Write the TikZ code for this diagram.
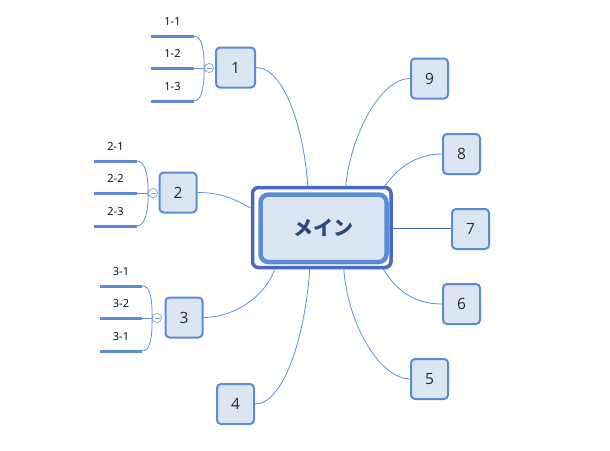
\documentclass[tikz,border=0pt]{standalone}
\usepackage{fontspec}
\setmainfont{Open Sans}
\newfontfamily\jp{Noto Sans CJK JP}
\definecolor{boxfill}{HTML}{DCE6F2}
\definecolor{boxline}{HTML}{5A8CD6}
\definecolor{outerline}{HTML}{4A68BE}
\definecolor{connc}{HTML}{5E90DA}
\definecolor{conndark}{HTML}{3C6CC4}
\definecolor{numtext}{HTML}{2A2A2A}
\definecolor{maintext}{HTML}{2F4B7E}
\definecolor{knobc}{HTML}{7FA3D8}
\pgfdeclarelayer{bg}
\pgfdeclarelayer{edges}
\pgfsetlayers{bg,edges,main}
\tikzset{
 numbox/.style={draw=boxline, fill=boxfill, line width=2pt, rounded corners=4pt, minimum width=37pt, minimum height=40pt, inner sep=0pt, font=\fontsize{15.5}{18}\selectfont, text=numtext},
 mainbox/.style={draw=boxline, fill=boxfill, line width=4.5pt, rounded corners=8pt, minimum width=126pt, minimum height=67.5pt, inner sep=0pt, font=\jp\bfseries\fontsize{20}{24}\selectfont, text=maintext},
 outerbox/.style={draw=outerline, line width=3.5pt, rounded corners=6pt, minimum width=138.5pt, minimum height=80pt, inner sep=0pt},
 link/.style={draw=connc, line width=0.8pt},
 childlbl/.style={anchor=south, minimum width=42pt, inner xsep=0pt, inner ysep=10pt, text depth=0pt, font=\fontsize{11}{13}\selectfont, text=black},
 underbar/.style={draw=boxline, line width=3pt},
 knob/.style={circle, draw=knobc, line width=0.7pt, fill=white, minimum size=9pt, inner sep=0pt},
 bracket/.style={draw=connc, line width=0.8pt},
}
\begin{document}
\begin{tikzpicture}[x=1pt,y=-1pt]
\begin{pgfonlayer}{bg}
\fill[white] (0,0) rectangle (610,450);
\end{pgfonlayer}
\useasboundingbox (0,0) rectangle (610,450);

% main node
\node[outerbox] (mainout) at (321.75,227.5) {};
\node[mainbox] (main) at (323.5,228.25) {メイン};

% numbered nodes
\node[numbox, minimum width=39pt] (n1) at (235.5,67.5) {1};
\node[numbox] (n2) at (178,192.5) {2};
\node[numbox] (n3) at (184,317.5) {3};
\node[numbox] (n4) at (235.5,404) {4};
\node[numbox] (n5) at (429.5,379) {5};
\node[numbox] (n6) at (461.5,304) {6};
\node[numbox] (n7) at (470.5,229) {7};
\node[numbox] (n8) at (461.5,154) {8};
\node[numbox] (n9) at (429.5,78.5) {9};

% child labels
\node[childlbl] (c11) at (172.5,36) {1-1};
\node[childlbl] (c12) at (172.5,68) {1-2};
\node[childlbl] (c13) at (172.5,101) {1-3};
\node[childlbl] (c21) at (115.5,161) {2-1};
\node[childlbl] (c22) at (115.5,193) {2-2};
\node[childlbl] (c23) at (115.5,226) {2-3};
\node[childlbl] (c31) at (121,286) {3-1};
\node[childlbl] (c32) at (121,318) {3-2};
\node[childlbl] (c33) at (121,351) {3-1};
\foreach \c in {c11,c12,c13,c21,c22,c23,c31,c32,c33}
  \draw[underbar] (\c.south west) -- (\c.south east);

\node[knob] (k1) at (209,68) {};
\node[knob] (k2) at (153,193) {};
\node[knob] (k3) at (157,318) {};
\foreach \k in {k1,k2,k3}
  \draw[draw=knobc, line width=0.7pt] ([xshift=-2.5pt]\k.center) -- ([xshift=2.5pt]\k.center);

\begin{pgfonlayer}{edges}
% brackets
\foreach \g in {1,2,3}{
  \draw[bracket] (c\g1.south east) .. controls +(8,0) and +(0,-20) .. (k\g.west);
  \draw[bracket] (c\g3.south east) .. controls +(8,0) and +(0,20) .. (k\g.west);
  \draw[bracket] (c\g2.south east) -- (k\g.west);
}
% main connectors
\draw[link] (n1.east) .. controls +(30,0) and +(-3,-50) .. ([xshift=-14pt]mainout.north);
\draw[link] (n9.west) .. controls +(-30,0) and +(5,-50) .. ([xshift=24pt]mainout.north);
\draw[link] (n8.west) .. controls +(-30,0) and +(10,-15) .. ([xshift=-9pt,yshift=-2pt]mainout.north east);
\draw[link, draw=conndark] (main.east) -- (main.east -| n7.west);
\draw[link] (n6.west) .. controls +(-30,0) and +(12,20) .. ([xshift=-10pt,yshift=1pt]mainout.south east);
\draw[link] (n5.west) .. controls +(-28,0) and +(5,60) .. ([xshift=22pt]mainout.south);
\draw[link] (n4.east) .. controls +(28,0) and +(-5,70) .. ([xshift=-12pt]mainout.south);
\draw[link] (n3.east) .. controls +(30,0) and +(-10,28) .. ([xshift=-47pt]mainout.south);
\draw[link] (n2.east) .. controls +(25,0) and +(-15,-8) .. ([yshift=19.5pt]mainout.west);
\end{pgfonlayer}
\end{tikzpicture}
\end{document}
